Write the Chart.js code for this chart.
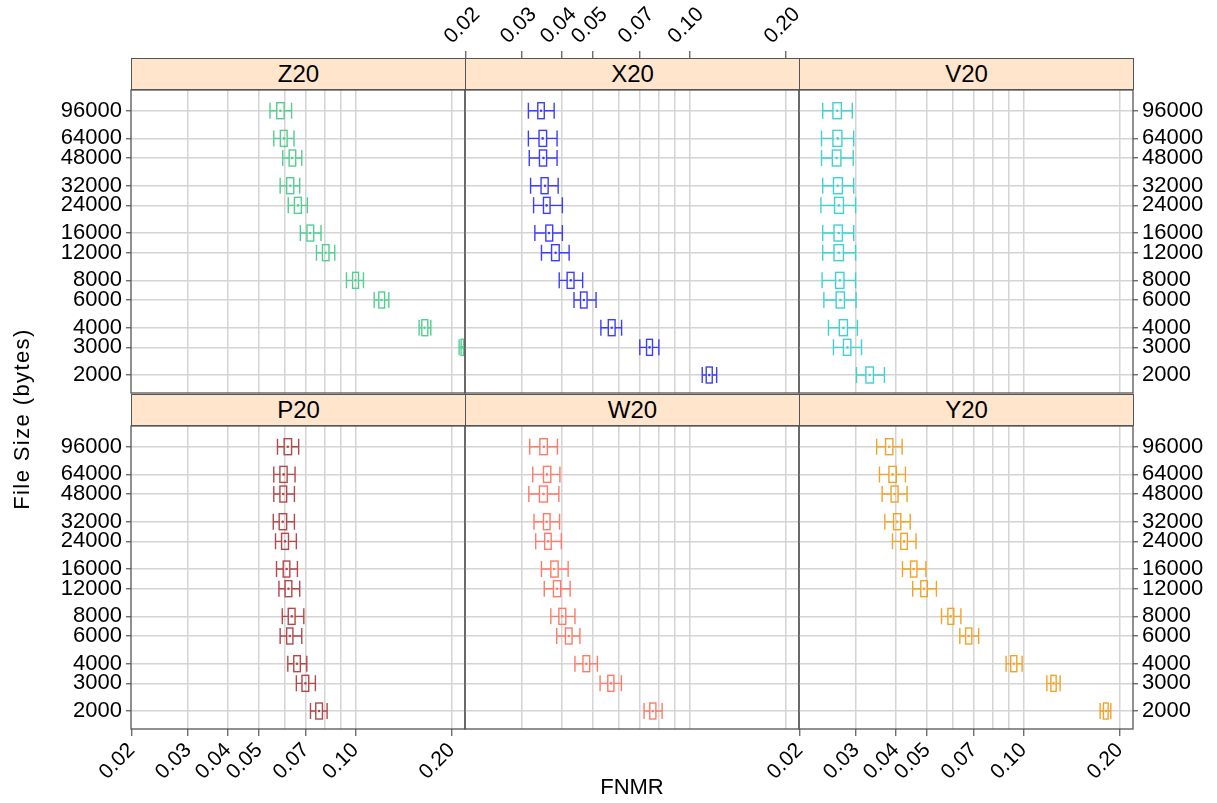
<!DOCTYPE html>
<html>
<head>
<meta charset="utf-8">
<script src="https://cdn.jsdelivr.net/npm/chart.js@4.4.1/dist/chart.umd.min.js"></script>
<style>
  html, body { margin: 0; padding: 0; background: #fff; }
  #page { position: relative; width: 1217px; height: 803px; overflow: hidden;
          font-family: "Liberation Sans", Arial, Helvetica, sans-serif; }
  #page canvas { position: absolute; left: 0; top: 0; }
  .strip { position: absolute; background: #ffe5cc; border: 1px solid #555; box-sizing: border-box;
           text-align: center; font-size: 24px; line-height: 30px; color: #000; z-index: 5; }
  .title { position: absolute; font-size: 22px; color: #000; text-align: center; z-index: 5; }
</style>
</head>
<body>
<div id="page"></div>
<script>
// file sizes (y positions, log scale) top to bottom
const fileSizes = [96000, 64000, 48000, 32000, 24000, 16000, 12000, 8000, 6000, 4000, 3000, 2000];

// FNMR tick labels and grid values (log x)
const xTickLabels = [0.02, 0.03, 0.04, 0.05, 0.07, 0.10, 0.20];
const xGridValues = [0.02, 0.03, 0.04, 0.05, 0.06, 0.07, 0.08, 0.09, 0.10, 0.20];

// each row: [lower whisker, q1, median, q3, upper whisker], same order as fileSizes
const z20 = [
  [0.0541, 0.0568, 0.0583, 0.0599, 0.0632],
  [0.0556, 0.0583, 0.0598, 0.0612, 0.0643],
  [0.0593, 0.0621, 0.0634, 0.0651, 0.0680],
  [0.0582, 0.0610, 0.0626, 0.0642, 0.0670],
  [0.0617, 0.0645, 0.0662, 0.0678, 0.0708],
  [0.0673, 0.0706, 0.0722, 0.0741, 0.0781],
  [0.0756, 0.0789, 0.0808, 0.0827, 0.0862],
  [0.0938, 0.0980, 0.1001, 0.1023, 0.1060],
  [0.1145, 0.1184, 0.1207, 0.1234, 0.1272],
  [0.1582, 0.1613, 0.1645, 0.1684, 0.1721],
  [0.2110, 0.2140, 0.2160, 0.2180, 0.2220],
  [0.2700, 0.2780, 0.2840, 0.2900, 0.3000]
];
const x20 = [
  [0.0314, 0.0336, 0.0344, 0.0352, 0.0378],
  [0.0314, 0.0339, 0.0348, 0.0358, 0.0386],
  [0.0316, 0.0340, 0.0350, 0.0358, 0.0386],
  [0.0319, 0.0344, 0.0354, 0.0362, 0.0389],
  [0.0326, 0.0350, 0.0358, 0.0367, 0.0401],
  [0.0329, 0.0356, 0.0364, 0.0374, 0.0401],
  [0.0345, 0.0371, 0.0382, 0.0392, 0.0421],
  [0.0392, 0.0415, 0.0426, 0.0436, 0.0464],
  [0.0436, 0.0457, 0.0468, 0.0479, 0.0511],
  [0.0529, 0.0558, 0.0572, 0.0586, 0.0614],
  [0.0700, 0.0735, 0.0751, 0.0767, 0.0803],
  [0.1097, 0.1129, 0.1154, 0.1179, 0.1217]
];
const v20 = [
  [0.0236, 0.0254, 0.0262, 0.0270, 0.0292],
  [0.0234, 0.0254, 0.0263, 0.0271, 0.0295],
  [0.0234, 0.0253, 0.0261, 0.0269, 0.0294],
  [0.0236, 0.0255, 0.0263, 0.0272, 0.0295],
  [0.0233, 0.0257, 0.0265, 0.0274, 0.0299],
  [0.0236, 0.0256, 0.0265, 0.0272, 0.0295],
  [0.0236, 0.0256, 0.0265, 0.0274, 0.0299],
  [0.0235, 0.0259, 0.0267, 0.0275, 0.0299],
  [0.0238, 0.0260, 0.0268, 0.0276, 0.0300],
  [0.0246, 0.0266, 0.0274, 0.0282, 0.0303],
  [0.0255, 0.0274, 0.0282, 0.0289, 0.0312],
  [0.0301, 0.0322, 0.0331, 0.0340, 0.0368]
];
const p20 = [
  [0.0571, 0.0599, 0.0615, 0.0632, 0.0665],
  [0.0556, 0.0581, 0.0597, 0.0612, 0.0648],
  [0.0556, 0.0581, 0.0595, 0.0610, 0.0645],
  [0.0554, 0.0578, 0.0593, 0.0610, 0.0645],
  [0.0563, 0.0588, 0.0603, 0.0618, 0.0654],
  [0.0567, 0.0595, 0.0610, 0.0624, 0.0659],
  [0.0577, 0.0603, 0.0618, 0.0633, 0.0670],
  [0.0591, 0.0617, 0.0633, 0.0648, 0.0690],
  [0.0582, 0.0610, 0.0624, 0.0638, 0.0680],
  [0.0615, 0.0642, 0.0657, 0.0673, 0.0705],
  [0.0654, 0.0681, 0.0698, 0.0715, 0.0750],
  [0.0724, 0.0752, 0.0770, 0.0789, 0.0816]
];
const w20 = [
  [0.0317, 0.0341, 0.0351, 0.0360, 0.0387],
  [0.0324, 0.0350, 0.0359, 0.0369, 0.0394],
  [0.0315, 0.0340, 0.0350, 0.0360, 0.0391],
  [0.0327, 0.0350, 0.0358, 0.0367, 0.0393],
  [0.0331, 0.0353, 0.0362, 0.0370, 0.0398],
  [0.0345, 0.0369, 0.0378, 0.0389, 0.0418],
  [0.0352, 0.0376, 0.0386, 0.0396, 0.0424],
  [0.0369, 0.0391, 0.0401, 0.0411, 0.0439],
  [0.0385, 0.0410, 0.0420, 0.0430, 0.0455],
  [0.0439, 0.0465, 0.0476, 0.0488, 0.0516],
  [0.0526, 0.0556, 0.0569, 0.0581, 0.0613],
  [0.0722, 0.0752, 0.0768, 0.0786, 0.0822]
];
const y20 = [
  [0.0348, 0.0371, 0.0381, 0.0391, 0.0418],
  [0.0355, 0.0380, 0.0390, 0.0401, 0.0428],
  [0.0362, 0.0386, 0.0396, 0.0406, 0.0433],
  [0.0369, 0.0393, 0.0403, 0.0414, 0.0443],
  [0.0390, 0.0414, 0.0424, 0.0434, 0.0462],
  [0.0419, 0.0444, 0.0454, 0.0465, 0.0496],
  [0.0451, 0.0478, 0.0489, 0.0501, 0.0535],
  [0.0555, 0.0581, 0.0593, 0.0606, 0.0638],
  [0.0633, 0.0660, 0.0675, 0.0690, 0.0725],
  [0.0883, 0.0913, 0.0934, 0.0954, 0.0991],
  [0.1184, 0.1219, 0.1242, 0.1266, 0.1303],
  [0.1737, 0.1779, 0.1810, 0.1840, 0.1876]
];

const panelNames = ['Z20', 'X20', 'V20', 'P20', 'W20', 'Y20'];
const panelData = [z20, x20, v20, p20, w20, y20];
const panelColors = ['#52cf90', '#3d3dff', '#3fd2d2', '#b5474a', '#ff7a68', '#f3a327'];

// axis ranges
const xMin = 0.0199, xMax = 0.2201;
const yMin = 1537, yMax = 130000;

// page layout
const PAGE_W = 1217, PAGE_H = 803;
const colLeft = [131, 465, 799];
const rowTop = [90, 426];
const stripTop = [58, 394];
const PW = 334, PH = 303, SH = 32;
const FONT = '"Liberation Sans", Arial, Helvetica, sans-serif';
const gridColor = '#d4d4d4';
const frameColor = '#555';

const page = document.getElementById('page');

// draws one horizontal box-and-whisker per file size from the dataset
const bwPlugin = {
  id: 'bw',
  afterDatasetsDraw(chart) {
    const { ctx, chartArea: a, scales: { x, y } } = chart;
    ctx.save();
    ctx.beginPath();
    ctx.rect(a.left, a.top, a.right - a.left, a.bottom - a.top);
    ctx.clip();
    chart.data.datasets.forEach(ds => {
      ctx.strokeStyle = ds.borderColor;
      ctx.fillStyle = ds.borderColor;
      ctx.lineWidth = 1.4;
      ds.data.forEach(p => {
        const [lo, q1, md, q3, hi] = p.stats.map(v => x.getPixelForValue(v));
        const py = y.getPixelForValue(p.y);
        const h = 8;
        ctx.beginPath();
        ctx.moveTo(lo, py); ctx.lineTo(q1, py);
        ctx.moveTo(q3, py); ctx.lineTo(hi, py);
        ctx.moveTo(lo, py - h); ctx.lineTo(lo, py + h);
        ctx.moveTo(hi, py - h); ctx.lineTo(hi, py + h);
        ctx.stroke();
        ctx.strokeRect(q1, py - h, q3 - q1, 2 * h);
        ctx.beginPath();
        ctx.arc(md, py, 1.3, 0, Math.PI * 2);
        ctx.fill();
      });
    });
    ctx.restore();
  }
};

const framePlugin = {
  id: 'frame',
  afterDraw(chart, args, opts) {
    if (!opts.show) return;
    const { ctx, chartArea: a } = chart;
    ctx.save();
    ctx.strokeStyle = frameColor;
    ctx.lineWidth = 1.3;
    ctx.strokeRect(a.left, a.top, a.right - a.left, a.bottom - a.top);
    ctx.restore();
  }
};

function newCanvas() {
  const c = document.createElement('canvas');
  c.width = PAGE_W; c.height = PAGE_H;
  c.style.width = PAGE_W + 'px'; c.style.height = PAGE_H + 'px';
  page.appendChild(c);
  return c.getContext('2d');
}

function xLabel(v) {
  return xTickLabels.includes(v) ? v.toFixed(2) : '';
}

function makeXAxis(position, labeled, size, onArea) {
  return {
    type: 'logarithmic', position: position, min: xMin, max: xMax,
    afterBuildTicks: s => { s.ticks = xGridValues.map(v => ({ value: v })); },
    afterFit: s => {
      s.height = size;
      s.paddingLeft = 0; s.paddingRight = 0;
    },
    border: { display: false },
    grid: {
      drawOnChartArea: onArea,
      color: c => (c.tick && c.tick.value === 0.02) ? 'rgba(0,0,0,0)' : gridColor,
      lineWidth: 1.5,
      drawTicks: labeled,
      tickLength: 7,
      tickWidth: 1.2,
      tickColor: c => (c.tick && xTickLabels.includes(c.tick.value)) ? '#555' : 'rgba(0,0,0,0)'
    },
    ticks: {
      display: labeled, autoSkip: false, minRotation: 45, maxRotation: 45,
      padding: 2, color: '#000', font: { family: FONT, size: 21 },
      callback: v => xLabel(v)
    }
  };
}

// six panels
panelNames.forEach((name, i) => {
  const r = Math.floor(i / 3), c = i % 3;
  const L = colLeft[c], T = rowTop[r];
  const xLabeled = (r === 1 && c !== 1);
  const yLabeled = (c !== 1);
  const bottomSpace = PAGE_H - (T + PH);
  const ySize = yLabeled ? (c === 0 ? L : PAGE_W - (L + PW)) : 0;

  const data = panelData[i];
  new Chart(newCanvas(), {
    type: 'scatter',
    data: {
      datasets: [{
        label: name,
        data: fileSizes.map((s, k) => ({ x: data[k][2], y: s, stats: data[k] })),
        borderColor: panelColors[i],
        backgroundColor: panelColors[i],
        pointRadius: 0, pointHoverRadius: 0, showLine: false
      }]
    },
    options: {
      responsive: false, animation: false, devicePixelRatio: 1,
      events: [],
      layout: {
        padding: {
          left: c === 0 ? 0 : L,
          right: c === 2 ? 0 : PAGE_W - (L + PW),
          top: T,
          bottom: xLabeled ? 0 : bottomSpace
        }
      },
      plugins: { legend: { display: false }, tooltip: { enabled: false }, frame: { show: true } },
      scales: {
        x: makeXAxis('bottom', xLabeled, xLabeled ? bottomSpace : 0, true),
        y: {
          type: 'logarithmic', position: c === 2 ? 'right' : 'left', min: yMin, max: yMax,
          afterBuildTicks: s => { s.ticks = fileSizes.map(v => ({ value: v })); },
          afterFit: s => {
            s.width = ySize;
            s.paddingTop = 0; s.paddingBottom = 0;
          },
          border: { display: false },
          grid: {
            color: gridColor, lineWidth: 1.5,
            drawTicks: yLabeled, tickLength: 5, tickWidth: 1.2, tickColor: '#555'
          },
          ticks: {
            display: yLabeled, autoSkip: false, padding: 4, color: '#000',
            font: { family: FONT, size: 22 },
            callback: v => String(v)
          }
        }
      }
    },
    plugins: [bwPlugin, framePlugin]
  });

  const strip = document.createElement('div');
  strip.className = 'strip';
  strip.style.left = L + 'px';
  strip.style.top = stripTop[r] + 'px';
  strip.style.width = (PW + 1) + 'px';
  strip.style.height = SH + 'px';
  strip.textContent = name;
  page.appendChild(strip);
});

// top axis of the middle column sits above its strip
new Chart(newCanvas(), {
  type: 'scatter',
  data: { datasets: [] },
  options: {
    responsive: false, animation: false, devicePixelRatio: 1, events: [],
    layout: {
      padding: { left: colLeft[1], right: PAGE_W - (colLeft[1] + PW), top: 0, bottom: PAGE_H - rowTop[0] }
    },
    plugins: { legend: { display: false }, tooltip: { enabled: false }, frame: { show: false } },
    scales: {
      x: makeXAxis('top', true, stripTop[0], false),
      y: { type: 'linear', display: false, min: 0, max: 1 }
    }
  },
  plugins: [framePlugin]
});

// axis titles
const yt = document.createElement('div');
yt.className = 'title';
yt.style.cssText += 'left:-128px;top:404px;width:300px;height:30px;line-height:30px;transform:rotate(-90deg);letter-spacing:1.4px;';
yt.textContent = 'File Size (bytes)';
page.appendChild(yt);

const xt = document.createElement('div');
xt.className = 'title';
xt.style.cssText += 'left:532px;top:772px;width:200px;height:30px;line-height:30px;';
xt.textContent = 'FNMR';
page.appendChild(xt);
</script>
</body>
</html>
